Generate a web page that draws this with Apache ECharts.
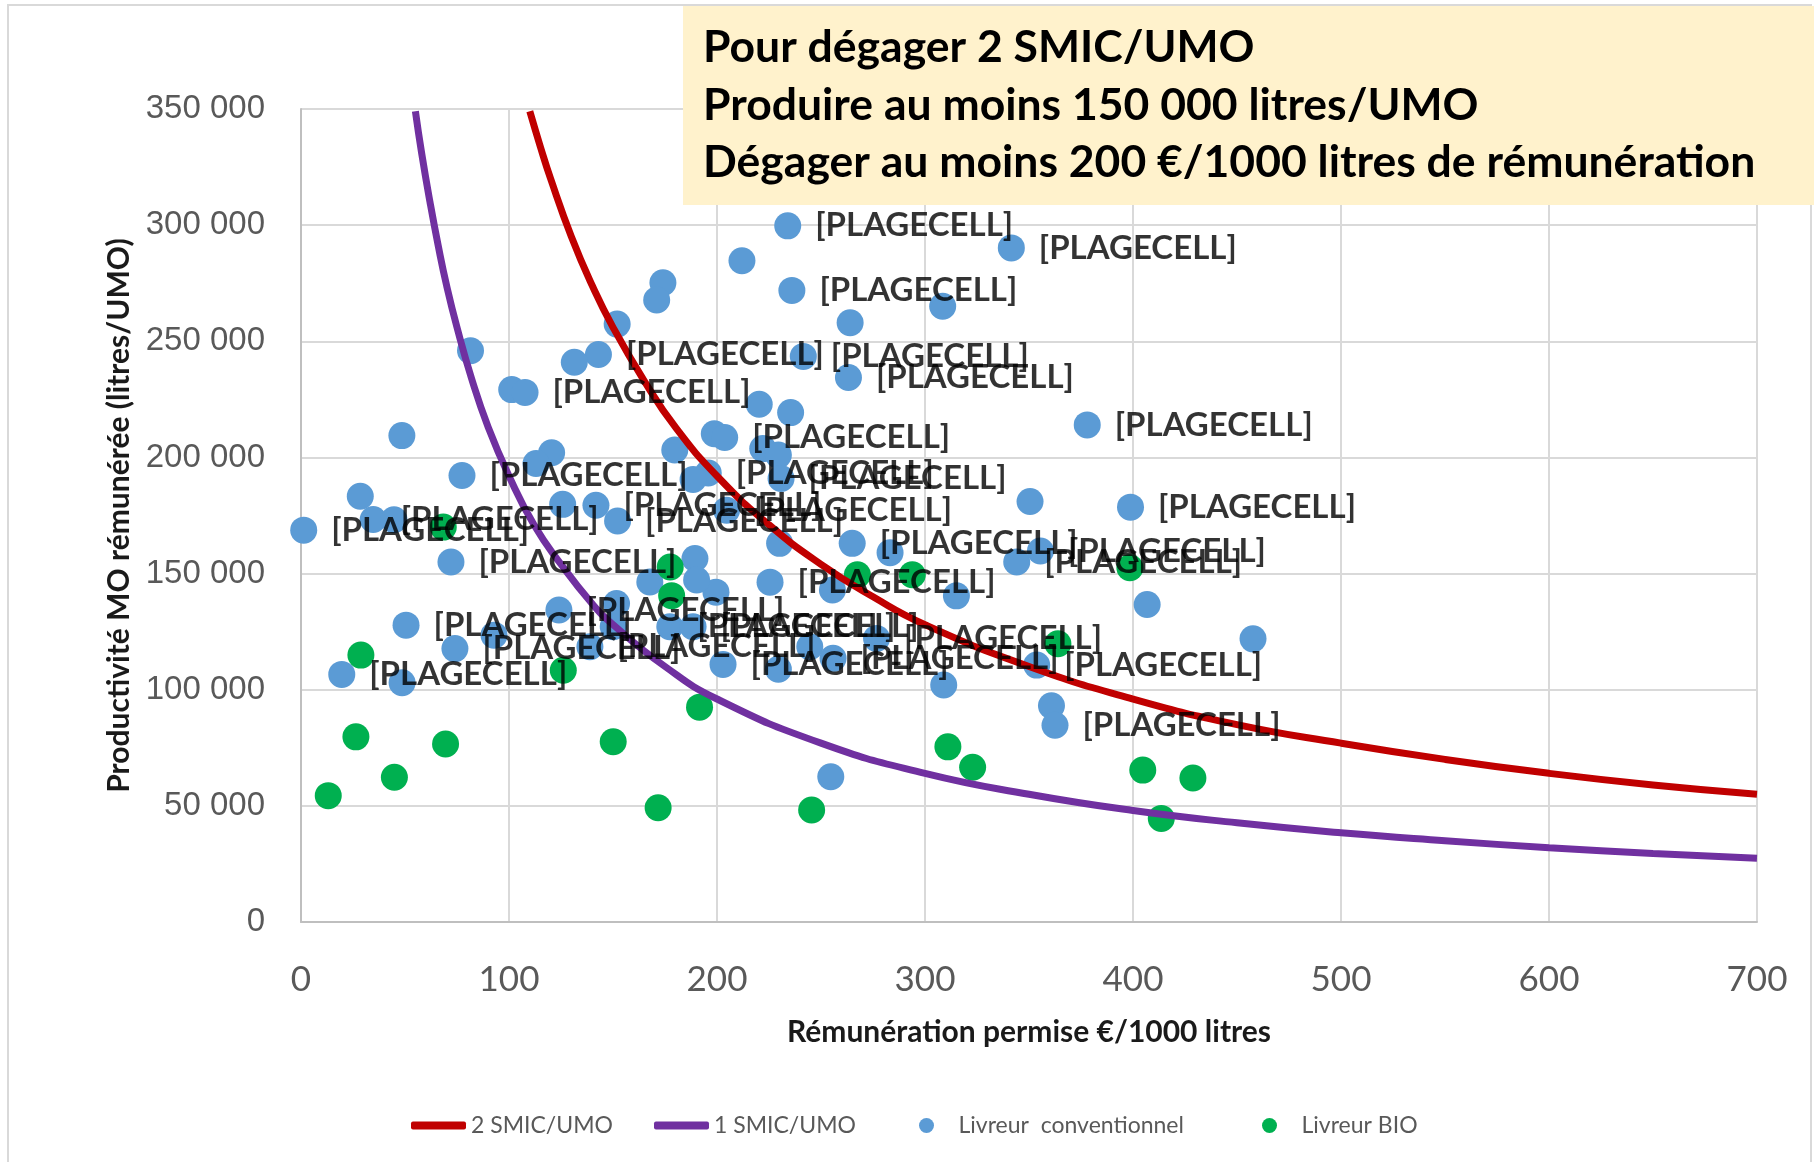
<!DOCTYPE html>
<html><head><meta charset="utf-8">
<script src="https://cdn.jsdelivr.net/npm/echarts/dist/echarts.min.js"></script>
<style>html,body{margin:0;padding:0;background:#fff}#c{width:1814px;height:1162px}</style>
</head><body><div id="c"></div>
<script>
// ---- data ----
const smic2X = [110, 115, 120, 130, 140, 150, 165, 180, 200, 225, 250, 275, 300, 350, 400, 450, 500, 550, 600, 650, 700];
const smic2Y = [349000, 334000, 320000, 295000, 274000, 256000, 233000, 213000, 192000, 171000, 154000, 140000, 128000, 110000, 96000, 85000, 77000, 70000, 64000, 59000, 55000];
const smic1X = [55, 58, 62, 66, 70, 75, 82, 90, 100, 112, 125, 140, 150, 175, 200, 250, 300, 350, 400, 450, 500, 550, 600, 650, 700];
const smic1Y = [349000, 331000, 310000, 291000, 274000, 256000, 234000, 213000, 192000, 171000, 154000, 137000, 128000, 110000, 96000, 77000, 64000, 55000, 48000, 42700, 38400, 35000, 32000, 29500, 27400];
const convX = [234, 341.5, 212, 236, 174, 171, 308.5, 264, 152, 81.5, 143, 131.4, 241.5, 263.2, 101.3, 107.7, 220.3, 235.4, 378, 48.5, 198.7, 203.7, 179.7, 222, 229.5, 120.5, 113, 77.4, 195.8, 188.5, 230.8, 350.5, 398.8, 28.5, 34.7, 44.7, 125.8, 141.8, 204.6, 152.2, 1.3, 72.1, 189.4, 230.1, 265, 283.2, 344.1, 355.5, 225.5, 255.5, 315.1, 406.8, 199.5, 190.2, 167.7, 151.7, 124, 50.5, 92.8, 150.1, 74, 138.9, 177.3, 188.5, 457.7, 202.9, 229.5, 309, 353.7, 360.8, 362.5, 254.7, 19.6, 48.6, 244.6, 255.8, 276.7];
const convY = [299700, 290200, 284700, 271900, 275200, 267800, 265100, 258000, 257400, 245900, 244300, 241000, 243500, 234400, 229200, 228000, 222900, 219300, 214000, 209400, 210200, 208600, 203200, 203800, 201000, 202000, 197400, 192200, 193300, 190500, 190900, 181000, 178600, 183300, 173300, 173200, 179800, 179400, 177300, 172600, 168700, 155000, 156500, 163000, 163000, 159000, 155000, 159700, 146300, 142900, 140400, 136700, 142000, 147200, 146400, 137100, 134300, 127800, 123500, 127100, 117700, 118500, 127100, 127100, 121900, 110900, 108800, 102000, 110600, 93100, 84700, 62500, 106600, 103000, 118500, 113500, 122100];
const convLabelled = [0, 1, 3, 10, 12, 13, 15, 18, 21, 27, 28, 30, 32, 34, 37, 38, 39, 40, 41, 44, 46, 47, 48, 56, 57, 60, 61, 62, 63, 65, 68, 70, 72, 75, 76];
const bioX = [68.4, 177.5, 178.2, 267.5, 293.9, 398.5, 363.9, 126.1, 28.8, 191.6, 311, 322.9, 404.7, 428.8, 245.5, 413.6, 26.4, 69.5, 150.1, 44.9, 13.1, 171.7];
const bioY = [170000, 152800, 140500, 149500, 149500, 152500, 119800, 108400, 114900, 92500, 75400, 66600, 65400, 62000, 48200, 44600, 79700, 76600, 77600, 62300, 54400, 49200];
const xTicks = [0, 100, 200, 300, 400, 500, 600, 700];
const yTicks = [0, 50000, 100000, 150000, 200000, 250000, 300000, 350000];
const labelText = '[PLAGECELL]';
const noteLines = ['Pour dégager 2 SMIC/UMO', 'Produire au moins 150 000 litres/UMO', 'Dégager au moins 200 €/1000 litres de rémunération'];
const seriesNames = ['2 SMIC/UMO', '1 SMIC/UMO', 'Livreur  conventionnel', 'Livreur BIO'];
const xTitle = 'Rémunération permise €/1000 litres';
const yTitle = 'Productivité MO rémunérée (litres/UMO)';

// ---- build ----
const zip = (a, b) => a.map((v, i) => [v, b[i]]);
const chart = echarts.init(document.getElementById('c'), null, {renderer: 'canvas'});
const fmtY = v => v === 0 ? '0' : (v / 1000) + ' 000';
const legendBase = {
  top: 1114, padding: 0, selectedMode: false,
  textStyle: {fontFamily: 'Lato', fontSize: 23, color: '#595959'}
};
const option = {
  animation: false,
  backgroundColor: '#fff',
  grid: {left: 301, right: 57, top: 109, bottom: 240, containLabel: false},
  xAxis: {
    type: 'value', min: xTicks[0], max: xTicks[xTicks.length - 1], interval: xTicks[1] - xTicks[0],
    axisLine: {show: true, lineStyle: {color: '#BFBFBF', width: 2}},
    axisTick: {show: false},
    splitLine: {show: true, lineStyle: {color: '#D9D9D9', width: 2}},
    axisLabel: {fontFamily: 'Lato', fontSize: 35, color: '#595959', margin: 40},
    name: xTitle, nameLocation: 'middle', nameGap: 95,
    nameTextStyle: {fontFamily: 'Lato', fontWeight: 'bold', fontSize: 30, color: '#1a1a1a'}
  },
  yAxis: {
    type: 'value', min: yTicks[0], max: yTicks[yTicks.length - 1], interval: yTicks[1] - yTicks[0],
    axisLine: {show: true, lineStyle: {color: '#BFBFBF', width: 2}},
    axisTick: {show: false},
    splitLine: {show: true, lineStyle: {color: '#D9D9D9', width: 2}},
    axisLabel: {fontFamily: 'Liberation Sans', fontSize: 33, color: '#595959', margin: 36, formatter: fmtY},
    name: yTitle, nameLocation: 'middle', nameGap: 167,
    nameTextStyle: {fontFamily: 'Lato', fontWeight: 'bold', fontSize: 30, color: '#1a1a1a'}
  },
  legend: [
    Object.assign({}, legendBase, {left: 411, itemWidth: 55, itemHeight: 8, data: [{name: seriesNames[0], icon: 'roundRect'}]}),
    Object.assign({}, legendBase, {left: 654, itemWidth: 55, itemHeight: 8, data: [{name: seriesNames[1], icon: 'roundRect'}]}),
    Object.assign({}, legendBase, {left: 919, itemWidth: 54, itemHeight: 15, data: [{name: seriesNames[2], icon: 'circle'}]}),
    Object.assign({}, legendBase, {left: 1262, itemWidth: 54, itemHeight: 15, data: [{name: seriesNames[3], icon: 'circle'}]})
  ],
  series: [
    {name: seriesNames[0], type: 'line', data: zip(smic2X, smic2Y), smooth: true, showSymbol: false, symbol: 'none',
     color: '#C00000', itemStyle: {color: '#C00000'}, lineStyle: {color: '#C00000', width: 7}, clip: true, silent: true},
    {name: seriesNames[1], type: 'line', data: zip(smic1X, smic1Y), smooth: true, showSymbol: false, symbol: 'none',
     color: '#7030A0', itemStyle: {color: '#7030A0'}, lineStyle: {color: '#7030A0', width: 7}, clip: true, silent: true},
    {name: seriesNames[2], type: 'scatter', data: zip(convX, convY), symbolSize: 27,
     itemStyle: {color: '#5B9BD5', opacity: 1}, silent: true},
    {name: seriesNames[3], type: 'scatter', data: zip(bioX, bioY), symbolSize: 27,
     itemStyle: {color: '#00B050', opacity: 1}, silent: true},
    {name: 'labels', type: 'scatter', z: 5, silent: true, symbolSize: 27,
     data: convLabelled.map(i => [convX[i], convY[i]]),
     itemStyle: {color: 'rgba(0,0,0,0)'},
     label: {show: true, position: 'right', distance: 14, formatter: labelText,
             fontFamily: 'Lato', fontWeight: 'bold', fontSize: 33, color: '#000'}}
  ],
  graphic: [
    {type: 'rect', z: 100, silent: true, shape: {x: 8, y: 5, width: 1803, height: 1170},
     style: {fill: 'none', stroke: '#D9D9D9', lineWidth: 2}},
    {type: 'rect', z: 101, silent: true, shape: {x: 683, y: 6, width: 1131, height: 199},
     style: {fill: '#FFF2CC'}},
  ].concat(noteLines.map((t, i) => ({
    type: 'text', z: 102, silent: true,
    style: {text: t, x: 703, y: 48 + i * 57.5, fill: '#000', fontFamily: 'Lato', fontWeight: 'bold', fontSize: 44.5,
            verticalAlign: 'middle', textVerticalAlign: 'middle'}
  })))
};
chart.setOption(option);
</script>
</body></html>
